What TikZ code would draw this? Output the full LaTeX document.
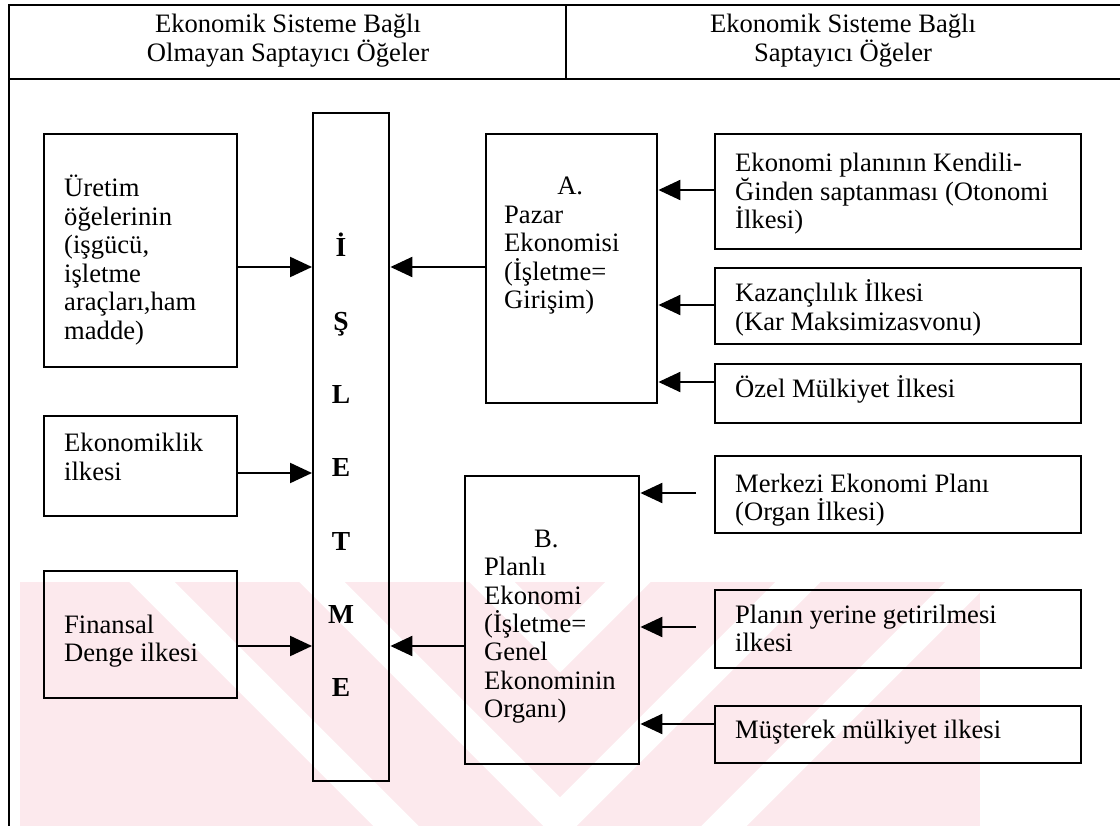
\documentclass[tikz,border=0pt]{standalone}
\usepackage{fontspec}
\setmainfont{Liberation Serif}
\usetikzlibrary{arrows.meta,calc}

\definecolor{wmpink}{RGB}{252,233,237}

% multi-line text block whose baseline is that of its first line
\newcommand{\mlines}[2]{\begin{minipage}[t]{#1}\raggedright\fontsize{26.6}{28.5}\selectfont #2\end{minipage}}
\newcommand{\mlinesc}[2]{\begin{minipage}[t]{#1}\centering\fontsize{26.6}{29}\selectfont #2\end{minipage}}

\begin{document}
\begin{tikzpicture}[x=1pt,y=-1pt,
  frame/.style={line width=1.6pt},
  box/.style={draw, line width=2.4pt, inner sep=0pt, anchor=north west},
  txt/.style={anchor=base west, inner sep=0pt},
  hdr/.style={anchor=base, inner sep=0pt},
  letter/.style={anchor=base, inner sep=0pt, font=\fontsize{27.5}{30}\selectfont\bfseries},
  arr/.style={line width=2.2pt, -{Triangle[length=22pt,width=20pt]}}]

\useasboundingbox (0,0) rectangle (1120,826);

% faint background emblem in the lower part
\begin{scope}
  \clip (20,582) rectangle (980,826);
  \fill[wmpink] (20,582) rectangle (980,826);
  \foreach \x in {130,300,470}
    \draw[white, line width=32pt, line join=miter]
      (\x,560) -- (560,{560+560-\x}) -- ({1120-\x},560);
\end{scope}

% outer frame and header
\draw[frame] (9,826) -- (9,5) -- (1120,5);
\draw[frame] (9,79) -- (1120,79);
\draw[frame] (566,5) -- (566,79);
\node[hdr] (hleft) at (288,33) {\mlinesc{500pt}{Ekonomik Sisteme Bağlı\\Olmayan Saptayıcı Öğeler}};
\node[hdr] (hright) at (843,33) {\mlinesc{500pt}{Ekonomik Sisteme Bağlı\\Saptayıcı Öğeler}};

% left column
\node[box, minimum width=193pt, minimum height=233pt] (uretim) at (43,133) {};
\node[txt] (uretimT) at (64,197) {\mlines{170pt}{Üretim\\öğelerinin\\(işgücü,\\işletme\\araçları,ham\\madde)}};
\node[box, minimum width=193pt, minimum height=100pt] (ekon) at (43,415) {};
\node[txt] (ekonT) at (64,452) {\mlines{170pt}{Ekonomiklik\\ilkesi}};
\node[box, minimum width=193pt, minimum height=127pt] (finans) at (43,570) {};
\node[txt] (finansT) at (64,633) {\mlines{170pt}{Finansal\\Denge ilkesi}};

% central column
\node[box, minimum width=76pt, minimum height=668pt] (isletme) at (312,112) {};
\foreach \ch [count=\i from 0] in {İ,Ş,L,E,T,M,E}
  \node[letter] (let\i) at (341,{257+73.3*\i}) {\ch};

% economic systems
\node[box, minimum width=171pt, minimum height=269pt] (pazar) at (485,133) {};
\node[txt] (pazarT) at (504,195) {\mlines{150pt}{\makebox[132pt]{A.}\\Pazar\\Ekonomisi\\(İşletme=\\Girişim)}};
\node[box, minimum width=174pt, minimum height=288pt] (planli) at (464,475) {};
\node[txt] (planliT) at (484,547) {\mlines{160pt}{\makebox[124pt]{B.}\\Planlı\\Ekonomi\\(İşletme=\\Genel\\Ekonominin\\Organı)}};

% right column
\node[box, minimum width=366pt, minimum height=115pt] (otonomi) at (714,133) {};
\node[txt] (otonomiT) at (735,172) {\mlines{340pt}{Ekonomi planının Kendili-\\Ğinden saptanması (Otonomi\\İlkesi)}};
\node[box, minimum width=366pt, minimum height=76pt] (kazanc) at (714,267) {};
\node[txt] (kazancT) at (735,302) {\mlines{340pt}{Kazançlılık İlkesi\\(Kar Maksimizasvonu)}};
\node[box, minimum width=366pt, minimum height=59pt] (ozel) at (714,363) {};
\node[txt] (ozelT) at (735,398) {\mlines{340pt}{Özel Mülkiyet İlkesi}};
\node[box, minimum width=366pt, minimum height=77pt] (merkezi) at (714,455) {};
\node[txt] (merkeziT) at (735,492) {\mlines{340pt}{Merkezi Ekonomi Planı\\(Organ İlkesi)}};
\node[box, minimum width=366pt, minimum height=78pt] (yerine) at (714,589) {};
\node[txt] (yerineT) at (735,623) {\mlines{340pt}{Planın yerine getirilmesi\\ilkesi}};
\node[box, minimum width=366pt, minimum height=57pt] (musterek) at (714,705) {};
\node[txt] (musterekT) at (735,738) {\mlines{340pt}{Müşterek mülkiyet ilkesi}};

% connector heights
\coordinate (yU) at (0,267);
\coordinate (yE) at (0,473);
\coordinate (yF) at (0,646);
\coordinate (y1) at (0,190);
\coordinate (y2) at (0,305);
\coordinate (y3) at (0,382);
\coordinate (y4) at (0,493);
\coordinate (y5) at (0,627);
\coordinate (y6) at (0,724);
\coordinate (m0) at ($(merkezi.west |- y4)+(-18,0)$);
\coordinate (r0) at ($(yerine.west |- y5)+(-18,0)$);

% connectors into the enterprise column
\draw[arr] (uretim.east |- yU) -- (isletme.west |- yU);
\draw[arr] (ekon.east |- yE) -- (isletme.west |- yE);
\draw[arr] (finans.east |- yF) -- (isletme.west |- yF);
\draw[arr] (pazar.west |- yU) -- (isletme.east |- yU);
\draw[arr] (planli.west |- yF) -- (isletme.east |- yF);

% connectors into the two economic systems
\draw[arr] (otonomi.west |- y1) -- (pazar.east |- y1);
\draw[arr] (kazanc.west |- y2) -- (pazar.east |- y2);
\draw[arr] (ozel.west |- y3) -- (pazar.east |- y3);
\draw[arr] (m0) -- (planli.east |- y4);
\draw[arr] (r0) -- (planli.east |- y5);
\draw[arr] (musterek.west |- y6) -- (planli.east |- y6);

\end{tikzpicture}
\end{document}
